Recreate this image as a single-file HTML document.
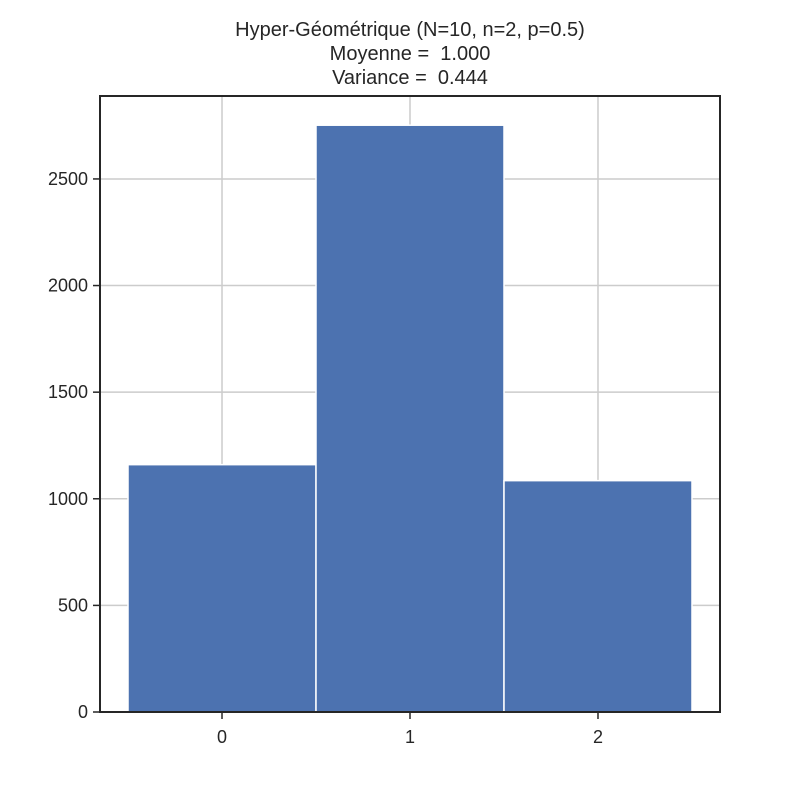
<!DOCTYPE html>
<html><head><meta charset="utf-8"><style>
body{margin:0;background:#fff;}
svg text{font-family:"Liberation Sans",Arial,sans-serif;fill:#262626;white-space:pre;}
</style></head><body>
<svg id="chart" width="800" height="800">
<g id="title">
<text x="410" y="36" font-size="20" text-anchor="middle" xml:space="preserve">Hyper-Géométrique (N=10, n=2, p=0.5)</text>
<text x="410" y="60" font-size="20" text-anchor="middle" xml:space="preserve">Moyenne =  1.000</text>
<text x="410" y="84" font-size="20" text-anchor="middle" xml:space="preserve">Variance =  0.444</text>
</g>
<g id="grid"></g>
<g id="bars"></g>
<g id="axes"></g>
</svg>
<script>
const categories=[0,1,2];
const counts=[1160,2752,1085];
const yTicks=[0,500,1000,1500,2000,2500];
const xTicks=[0,1,2];
const L=100,R=720,T=96,B=712;
const xMin=-0.649,xMax=2.649,yMax=2889;
const sx=v=>L+(v-xMin)/(xMax-xMin)*(R-L);
const sy=v=>B-v/yMax*(B-T);
const NS="http://www.w3.org/2000/svg";
function mk(tag,attrs,parent){const e=document.createElementNS(NS,tag);for(const k in attrs)e.setAttribute(k,attrs[k]);document.getElementById(parent).appendChild(e);return e;}
yTicks.forEach(v=>{const l=mk('line',{x1:L,x2:R,y1:sy(v),y2:sy(v),stroke:'#cccccc','stroke-width':1.5},'grid');

});
xTicks.forEach(v=>{const l=mk('line',{x1:sx(v),x2:sx(v),y1:T,y2:B,stroke:'#cccccc','stroke-width':1.5},'grid');

});
categories.forEach((c,i)=>{const r=mk('rect',{x:sx(c-0.5),y:sy(counts[i]),width:sx(c+0.5)-sx(c-0.5),height:B-sy(counts[i]),fill:'#4c72b0',stroke:'#ffffff','stroke-width':1.5},'bars');

});
const f=mk('rect',{x:L,y:T,width:R-L,height:B-T,fill:'none',stroke:'#262626','stroke-width':2},'axes');


yTicks.forEach(v=>{mk('line',{x1:L-7,x2:L,y1:sy(v),y2:sy(v),stroke:'#262626','stroke-width':1.5},'axes');
const t=mk('text',{x:L-12,y:sy(v)+6,'font-size':18,'text-anchor':'end'},'axes');t.textContent=v;

});
xTicks.forEach(v=>{mk('line',{x1:sx(v),x2:sx(v),y1:B,y2:B+7,stroke:'#262626','stroke-width':1.5},'axes');
const t=mk('text',{x:sx(v),y:B+31,'font-size':18,'text-anchor':'middle'},'axes');t.textContent=v;

});
</script>
</body></html>
